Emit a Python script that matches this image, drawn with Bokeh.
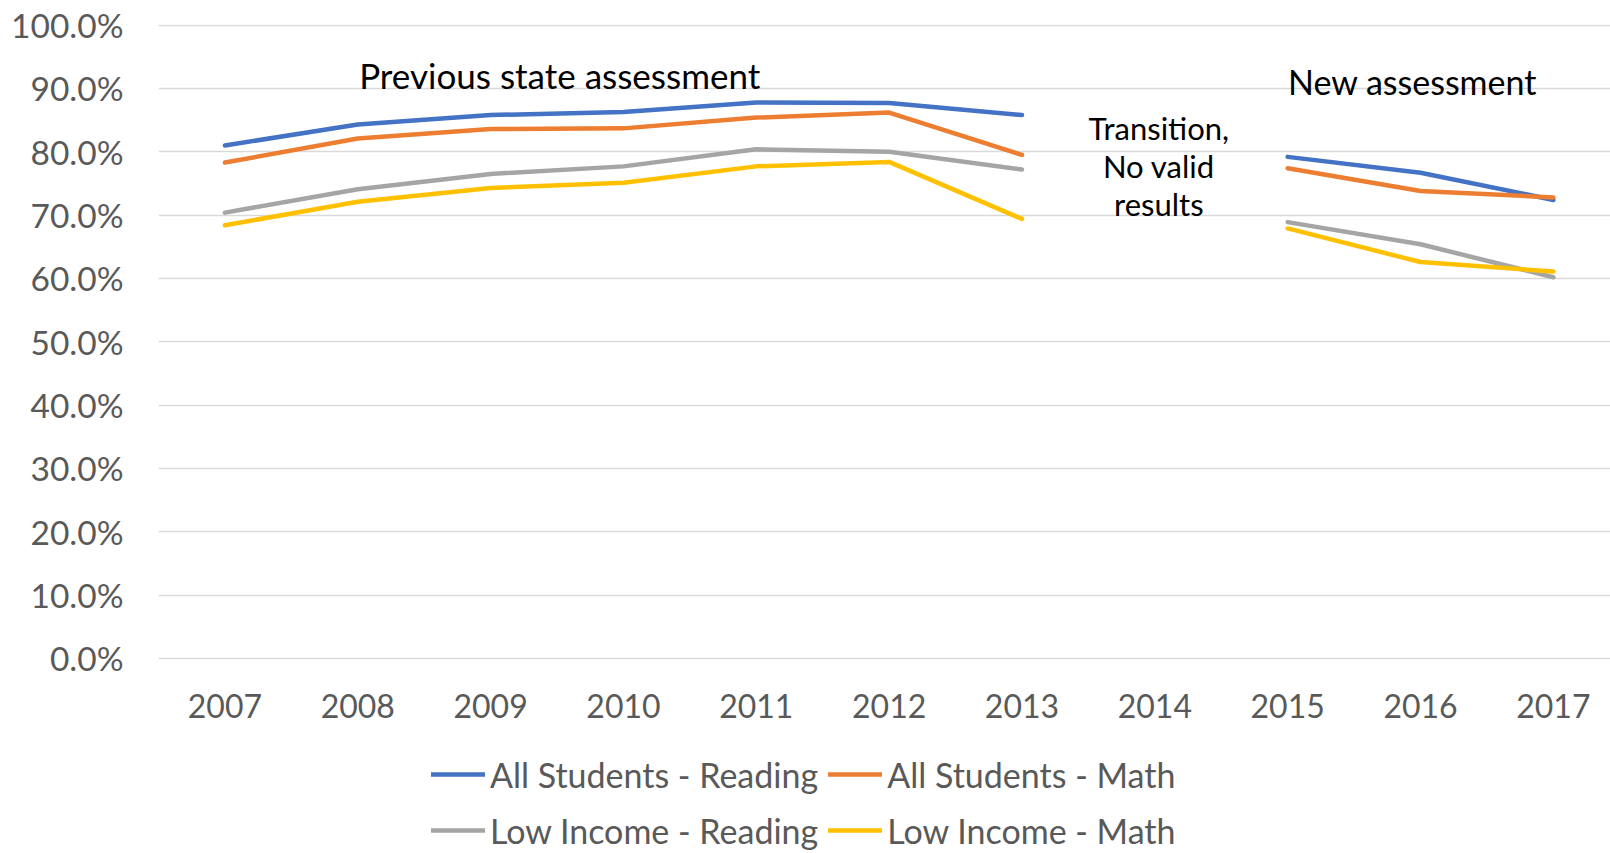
import numpy as np
from bokeh.plotting import figure
from bokeh.models import (ColumnDataSource, Legend, LegendItem, NumeralTickFormatter,
                          FixedTicker, Range1d, Label)
from bokeh.embed import file_html
from bokeh.resources import INLINE

years = [2007, 2008, 2009, 2010, 2011, 2012, 2013, 2014, 2015, 2016, 2017]
all_reading = [0.810, 0.843, 0.858, 0.863, 0.878, 0.877, 0.858, None, 0.792, 0.767, 0.724]
all_math = [0.783, 0.821, 0.836, 0.837, 0.854, 0.862, 0.795, None, 0.774, 0.738, 0.728]
low_reading = [0.704, 0.741, 0.765, 0.777, 0.804, 0.800, 0.772, None, 0.689, 0.654, 0.602]
low_math = [0.684, 0.721, 0.743, 0.751, 0.777, 0.784, 0.694, None, 0.679, 0.626, 0.611]

series_names = ["All Students - Reading", "All Students - Math",
                "Low Income - Reading", "Low Income - Math"]
series_values = [all_reading, all_math, low_reading, low_math]
colors = ["#4472C4", "#ED7D31", "#A5A5A5", "#FFC000"]

y_ticks = [i / 10 for i in range(11)]

FONT = "Lato"
GRAY_TXT = "#595959"

# frame spans down to the bottom of the page so the legend can sit under the x labels
p = figure(width=1610, height=853, output_backend="svg", toolbar_location=None,
           x_range=Range1d(2006.5, 2017.43), y_range=Range1d(-0.3079, 1.001),
           min_border_left=158, min_border_right=0, min_border_top=24,
           min_border_bottom=0, outline_line_color=None)

def to_arr(vals):
    return np.array([np.nan if v is None else v for v in vals], dtype=float)

items = []
for name, vals, c in zip(series_names, series_values, colors):
    src = ColumnDataSource(dict(x=years, y=to_arr(vals)))
    r = p.line("x", "y", source=src, line_color=c, line_width=4.5,
               line_cap="round", line_join="round")
    items.append(LegendItem(label=name, renderers=[r]))

# axes
p.yaxis.ticker = FixedTicker(ticks=y_ticks)
p.yaxis.formatter = NumeralTickFormatter(format="0.0%")
p.xaxis.ticker = FixedTicker(ticks=years)
p.xaxis.fixed_location = 0
for ax in (p.xaxis[0], p.yaxis[0]):
    ax.axis_line_color = None
    ax.major_tick_line_color = None
    ax.minor_tick_line_color = None
    ax.major_label_text_font = FONT
    ax.major_label_text_color = GRAY_TXT
p.yaxis.major_label_text_font_size = "33.5px"
p.xaxis.major_label_text_font_size = "32px"
p.yaxis.major_label_standoff = 29
p.xaxis.major_label_standoff = 30

p.xgrid.grid_line_color = None
p.ygrid.grid_line_color = "#D9D9D9"
p.ygrid.grid_line_width = 1.5
p.ygrid.ticker = FixedTicker(ticks=y_ticks)

# annotations
p.add_layout(Label(x=2009.52, y=0.922, text="Previous state assessment",
                   text_align="center", text_baseline="middle",
                   text_font=FONT, text_font_size="35px", text_color="black"))
p.add_layout(Label(x=2015.94, y=0.911, text="New assessment",
                   text_align="center", text_baseline="middle",
                   text_font=FONT, text_font_size="34px", text_color="black"))
for txt, yv in [("Transition,", 0.837), ("No valid", 0.777), ("results", 0.717)]:
    p.add_layout(Label(x=2014.03, y=yv, text=txt, text_align="center",
                       text_baseline="middle", text_font=FONT,
                       text_font_size="31px", text_color="black"))

legend = Legend(items=items, location=(273, 0), orientation="horizontal", ncols=2,
                glyph_width=54, glyph_height=46, label_height=46, label_standoff=5,
                spacing=10, padding=0, margin=0, border_line_color=None,
                background_fill_alpha=0, label_text_font=FONT,
                label_text_font_size="34px", label_text_color=GRAY_TXT)
p.add_layout(legend, "center")

open("out.html", "w").write(file_html(p, INLINE))
